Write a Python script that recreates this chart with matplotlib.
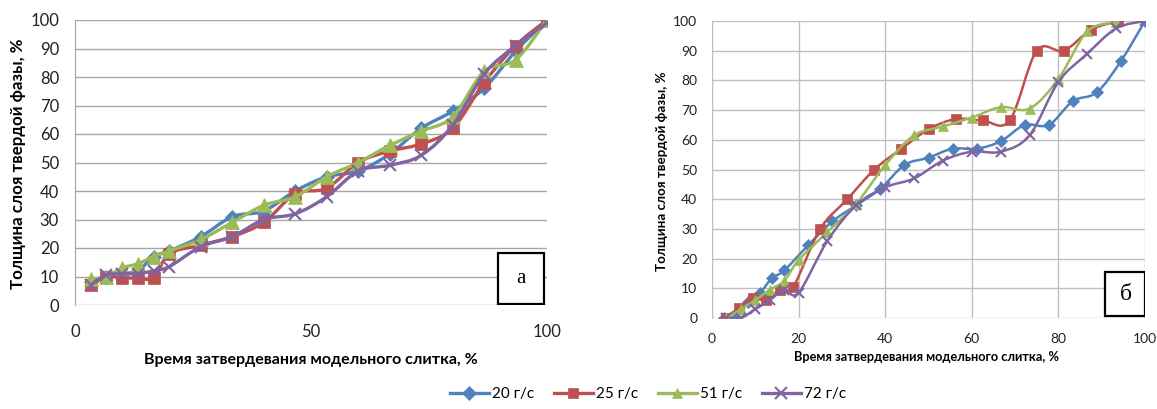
import numpy as np
import matplotlib
matplotlib.use("Agg")
import matplotlib.pyplot as plt
from matplotlib.path import Path
from matplotlib.patches import PathPatch, Rectangle
from matplotlib.lines import Line2D

plt.rcParams['font.family'] = ['Lato', 'Open Sans', 'DejaVu Sans']

labels = ["20 г/с", "25 г/с", "51 г/с", "72 г/с"]
colors = ["#4F81BD", "#C0504D", "#9BBB59", "#8064A2"]
markers = ["D", "s", "^", "x"]

# ---- chart а ----
xa = [3.33, 6.67, 10, 13.33, 16.67, 20, 26.67, 33.33, 40, 46.67, 53.33, 60,
      66.67, 73.33, 80, 86.67, 93.33, 100]
ya_20 = [8, 10, 11, 12, 17, 19, 24, 31, 33, 40, 45, 47, 53, 62, 68, 76, 89, 100]
ya_25 = [7, 10, 9.5, 9.5, 9.5, 18, 21, 24, 29, 39, 41, 50, 54, 56.5, 62, 78, 91, 100]
ya_51 = [9, 10, 13, 14.5, 17, 19, 23, 29, 35, 38, 45, 50, 56, 61, 66, 82, 86, 100]
ya_72 = [7, 10.5, 11, 11, 12, 13.5, 20.5, 24, 30, 32, 38, 47, 49, 52.5, 63, 81, 91, 99]

# ---- chart б ----
xb_20 = [2.78, 5.56, 8.33, 11.11, 13.89, 16.67, 22.22, 27.78, 33.33, 38.89, 44.44,
         50, 55.56, 61.11, 66.67, 72.22, 77.78, 83.33, 88.89, 94.44, 100]
yb_20 = [0, 0, 5.5, 8.5, 13.5, 16, 24.5, 32.5, 38, 43.5, 51.5, 54, 57, 57, 59.5,
         65, 65, 73, 76, 86.5, 100]
xb_25 = [3.125, 6.25, 9.375, 12.5, 15.625, 18.75, 25, 31.25, 37.5, 43.75, 50,
         56.25, 62.5, 68.75, 75, 81.25, 87.5, 93.75]
yb_25 = [0, 3.5, 6.7, 6, 9.5, 10.5, 30, 40, 50, 57, 63.5, 67, 66.5, 66.5, 90, 90,
         97, 100]
xb_51 = [3.33, 6.67, 10, 13.33, 16.67, 20, 26.67, 33.33, 40, 46.67, 53.33, 60,
         66.67, 73.33, 80, 86.67, 93.33]
yb_51 = [0, 3, 6, 9.5, 12.5, 19.5, 29, 38.5, 51.5, 61.5, 64.5, 67.5, 71, 70.5,
         80.5, 96.5, 99.5]
xb_72 = [3.33, 6.67, 10, 13.33, 16.67, 20, 26.67, 33.33, 40, 46.67, 53.33, 60,
         66.67, 73.33, 80, 86.67, 93.33, 100]
yb_72 = [0, 0, 3, 6, 9.5, 8.5, 26, 38, 44, 47, 53, 56, 56, 61.5, 79.5, 89, 97.5, 100]


def smooth_path(x, y):
    """Excel-like smoothed line: cubic Bezier through the points."""
    p = np.column_stack([x, y]).astype(float)
    ext = np.vstack([p[0], p, p[-1]])
    verts, codes = [p[0]], [Path.MOVETO]
    for i in range(len(p) - 1):
        p0, p1, p2, p3 = ext[i], ext[i+1], ext[i+2], ext[i+3]
        verts += [p1 + (p2 - p0) / 6, p2 - (p3 - p1) / 6, p2]
        codes += [Path.CURVE4] * 3
    return Path(verts, codes)


def draw(ax, xs, ys, lw, ms):
    for k, (x, y) in enumerate(zip(xs, ys)):
        ax.add_patch(PathPatch(smooth_path(x, y), fill=False, edgecolor=colors[k],
                               lw=lw, zorder=3 + k, capstyle='round', joinstyle='round'))
        mk = markers[k]
        ax.plot(x, y, ls='none', marker=mk, color=colors[k],
                ms=ms * (1.15 if mk == '^' else 0.85 if mk == 'D' else 1.0),
                mew=1.5 if mk == 'x' else 0.5, zorder=3 + k + 0.5)


def style(ax, grid_c, xticks, tick_fs, xpad, ypad, vgrid):
    ax.set_xlim(0, 100); ax.set_ylim(0, 100)
    ax.set_xticks(xticks); ax.set_yticks(range(0, 101, 10))
    ax.tick_params(length=0, labelsize=tick_fs, colors="#222222")
    ax.tick_params(axis='x', pad=xpad); ax.tick_params(axis='y', pad=ypad)
    for s in ["top", "right", "bottom"]:
        ax.spines[s].set_visible(False)
    ax.spines["left"].set_color(grid_c)
    ax.grid(axis='y', color=grid_c, lw=1.0)
    if vgrid:
        ax.grid(axis='x', color=grid_c, lw=1.0)
    ax.set_axisbelow(True)


W, H = 1157, 409
fig = plt.figure(figsize=(W / 100, H / 100), dpi=100)

ax1 = fig.add_axes([75 / W, 1 - 305 / H, (547 - 75) / W, (305 - 20) / H])
style(ax1, "#a6a6a6", [0, 50, 100], 12, 14, 11.5, False)
draw(ax1, [xa] * 4, [ya_20, ya_25, ya_51, ya_72], 2.4, 8.5)
ax1.add_patch(Rectangle((89.6, 0.3), 9.8, 17.9, fill=True, facecolor="white",
                        edgecolor="black", lw=1.6, zorder=10))
ax1.text(94.5, 9.2, "а", family="Liberation Serif", fontsize=15, ha="center",
         va="center", zorder=11)

ax2 = fig.add_axes([712 / W, 1 - 318 / H, (1145 - 712) / W, (318 - 21) / H])
style(ax2, "#bfbfbf", range(0, 101, 20), 10, 10.5, 10.5, True)
draw(ax2, [xb_20, xb_25, xb_51, xb_72], [yb_20, yb_25, yb_51, yb_72], 1.8, 6.8)
ax2.add_patch(Rectangle((90.8, 0.7), 9.2, 14.8, fill=True, facecolor="white",
                        edgecolor="black", lw=1.6, zorder=10))
ax2.text(95.6, 8.0, "б", family="Liberation Serif", fontsize=17, ha="center",
         va="center", zorder=11)

fig.text(18 / W, 1 - 164 / H, "Толщина слоя твердой фазы, %", rotation=90,
         ha="center", va="center", fontsize=12.2, fontweight="bold")
fig.text(311 / W, 1 - 360 / H, "Время затвердевания модельного слитка, %",
         ha="center", va="center", fontsize=11.5, fontweight="bold")
fig.text(662 / W, 1 - 171 / H, "Толщина слоя твердой фазы, %", rotation=90,
         ha="center", va="center", fontsize=9.6, fontweight="bold")
fig.text(927 / W, 1 - 357 / H, "Время затвердевания модельного слитка, %",
         ha="center", va="center", fontsize=9.2, fontweight="bold")

handles = [Line2D([], [], color=c, lw=2.4, marker=m, ms=7 if m != 'x' else 8,
                  mew=1.5 if m == 'x' else 0.5) for c, m in zip(colors, markers)]
fig.legend(handles, labels, loc="center", bbox_to_anchor=(648 / W, 1 - 394 / H),
           ncol=4, frameon=False, fontsize=11, handlelength=2.5, handletextpad=0.2,
           columnspacing=1.35)

fig.savefig("out.png", dpi=100, facecolor="white")
